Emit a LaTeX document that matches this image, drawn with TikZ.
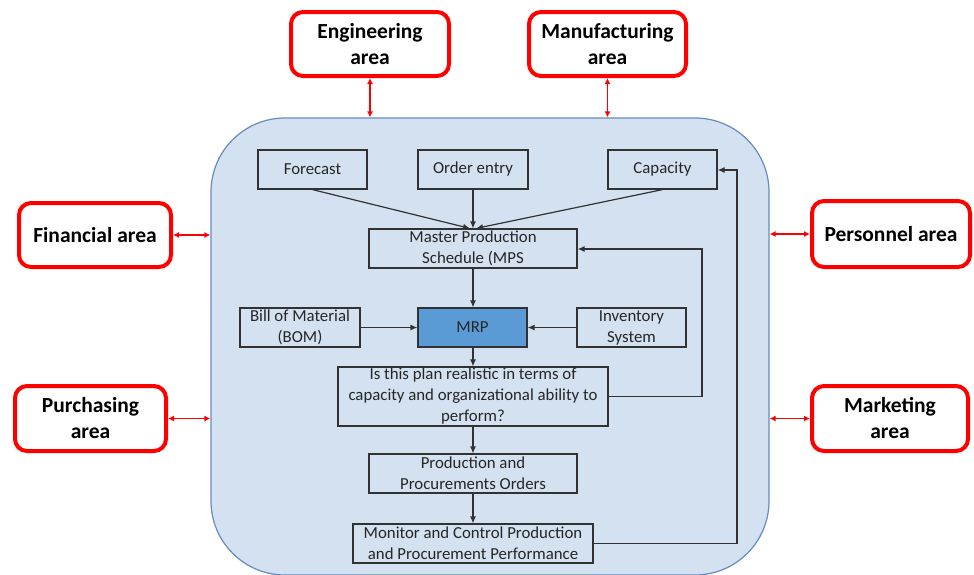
\documentclass[tikz,border=0pt]{standalone}
\usepackage{fontspec}
\setmainfont{Carlito}
\usetikzlibrary{arrows.meta}
\definecolor{sysfill}{RGB}{211,225,240}
\definecolor{sysline}{RGB}{100,140,190}
\definecolor{mrpfill}{RGB}{91,155,213}
\definecolor{boxline}{RGB}{50,50,50}
\definecolor{areared}{RGB}{255,0,0}
\tikzset{
  area/.style={draw=areared, line width=4pt, rounded corners=12pt, fill=white,
    align=center, inner sep=0pt, font=\fontsize{21.5}{26}\selectfont\bfseries},
  stepbox/.style={draw=boxline, line width=1.2pt, fill=sysfill, align=center,
    inner sep=0pt, font=\fontsize{16.8}{21}\selectfont, text=black!85},
  link/.style={red, line width=1.7pt, {Latex[length=6pt,width=6pt]}-{Latex[length=6pt,width=6pt]}},
  flow/.style={boxline, line width=1.2pt, -{Latex[length=7pt,width=6pt]}}
}
\begin{document}
\begin{tikzpicture}[x=1pt,y=-1pt]
\useasboundingbox (0,0) rectangle (974,574);
\begin{scope}
\clip (0,0) rectangle (974,574);
% system boundary
\node[draw=sysline, line width=1.2pt, fill=sysfill, rounded corners=74pt,
  minimum width=558pt, minimum height=457pt, inner sep=0pt] (sys) at (490,346.5) {};
\end{scope}

% surrounding functional areas
\node[area, minimum width=158pt, minimum height=64pt] (eng) at (370,44) {Engineering\\area};
\node[area, minimum width=157pt, minimum height=64pt] (man) at (607.5,44) {Manufacturing\\area};
\node[area, minimum width=152pt, minimum height=64pt] (fin) at (95,235) {Financial area};
\node[area, minimum width=151pt, minimum height=65pt] (pur) at (90.5,418.5) {Purchasing\\area};
\node[area, minimum width=158pt, minimum height=66pt] (per) at (891,234) {Personnel area};
\node[area, minimum width=156pt, minimum height=65pt] (mkt) at (890,418.5) {Marketing\\area};

\draw[link] (eng.south) -- (eng.south |- sys.north);
\draw[link] (man.south) -- (man.south |- sys.north);
\draw[link] (fin.east) -- (fin.east -| sys.west);
\draw[link] (pur.east) -- (pur.east -| sys.west);
\draw[link] (per.west) -- (per.west -| sys.east);
\draw[link] (mkt.west) -- (mkt.west -| sys.east);

% planning steps
\node[stepbox, minimum width=109pt, minimum height=39pt] (fc) at (312.5,169.5) {Forecast};
\node[stepbox, minimum width=110pt, minimum height=39pt] (oe) at (473,169.5) {Order entry};
\node[stepbox, minimum width=109pt, minimum height=39pt] (cap) at (662.5,169.5) {Capacity};
\node[stepbox, minimum width=208pt, minimum height=39pt] (mps) at (473,248.5) {Master Production\\Schedule (MPS};
\node[stepbox, minimum width=120pt, minimum height=39pt] (bom) at (300,327.5) {Bill of Material\\(BOM)};
\node[stepbox, fill=mrpfill, minimum width=109pt, minimum height=39pt] (mrp) at (472.5,327.5) {MRP};
\node[stepbox, minimum width=109pt, minimum height=39pt] (inv) at (631.5,327.5) {Inventory\\System};
\node[stepbox, minimum width=270pt, minimum height=59pt] (chk) at (473,396.5) {Is this plan realistic in terms of\\capacity and organizational ability to\\perform?};
\node[stepbox, minimum width=208pt, minimum height=39pt] (ord) at (473,473.5) {Production and\\Procurements Orders};
\node[stepbox, minimum width=240pt, minimum height=39pt] (mon) at (473,543.5) {Monitor and Control Production\\and Procurement Performance};

\draw[flow] (fc.south) -- ([xshift=-3pt]mps.north);
\draw[flow] (oe.south) -- (mps.north);
\draw[flow] (cap.south) -- ([xshift=3pt]mps.north);
\draw[flow] (mps.south) -- (mrp.north -| mps.south);
\draw[flow] (bom.east) -- (mrp.west);
\draw[flow] (inv.west) -- (mrp.east);
\draw[flow] (mrp.south -| chk.north) -- (chk.north);
\draw[flow] (chk.south) -- (ord.north);
\draw[flow] (ord.south) -- (mon.north);
% feedback loops
\coordinate (fb1) at (702,249);
\coordinate (fb2) at (737,170);
\draw[flow] (chk.east) -| (fb1) -- (fb1 -| mps.east);
\draw[flow] (mon.east) -| (fb2) -- (fb2 -| cap.east);
\end{tikzpicture}
\end{document}
